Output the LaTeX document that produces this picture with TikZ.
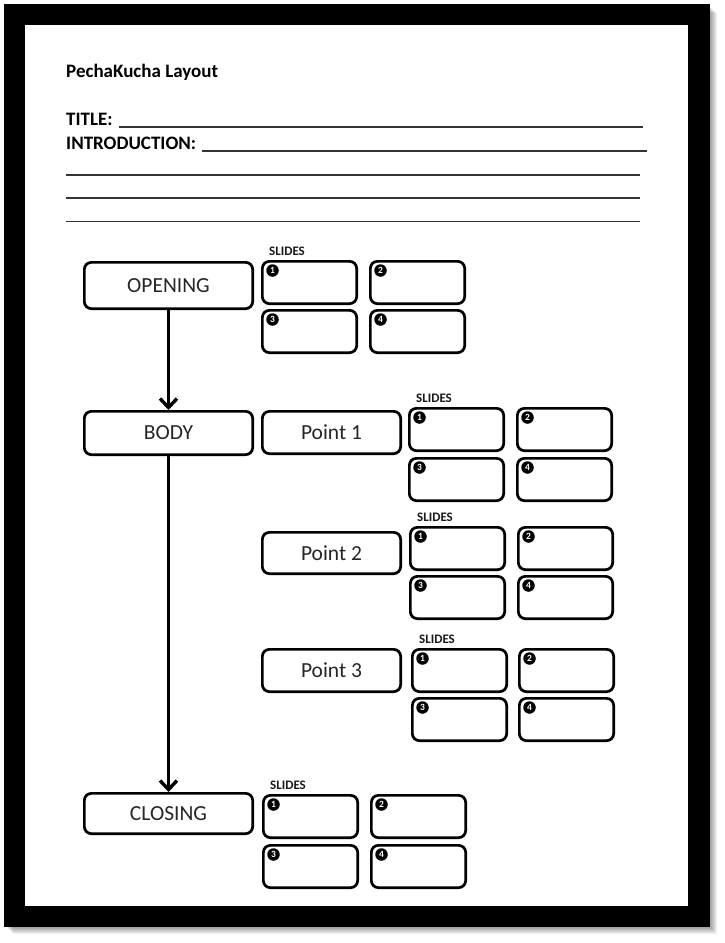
\documentclass[tikz,border=0pt]{standalone}
\usepackage{fontspec}
\setmainfont{Carlito}
\usetikzlibrary{arrows.meta}
\newcommand\slidegrp[5]{%
  \node[lbl,anchor=west] (#1L) at (#2+8,#3-8.5) {SLIDES};
  \foreach \k/\i/\j in {1/0/0,2/1/0,3/0/1,4/1/1} {
    \node[slidebox] (#1\k) at (#2+48.5+\i*#4,#3+22.5+\j*#5) {};
    \node[num] (#1n\k) at ([xshift=11.5pt,yshift=-10.5pt]#1\k.north west) {\k};
  }
}
\begin{document}
\begin{tikzpicture}[x=1pt,y=-1pt,
  box/.style={draw=black,line width=2.7pt,rounded corners=7pt,fill=white,text=black!85,
    font=\fontsize{21.5}{24}\selectfont,inner sep=0pt},
  slidebox/.style={draw=black,line width=2.7pt,rounded corners=7pt,fill=white,
    minimum width=94.3pt,minimum height=42.3pt,inner sep=0pt},
  num/.style={circle,fill=black,text=white,inner sep=0pt,minimum size=12.5pt,
    font=\fontsize{9.5}{9.5}\selectfont\bfseries},
  lbl/.style={font=\fontsize{13}{13}\selectfont\bfseries,inner sep=0pt,text=black!90},
  hdr/.style={font=\fontsize{19}{20}\selectfont\bfseries,inner sep=0pt},
  rule/.style={line width=1.3pt,draw=black!80},
  flow/.style={line width=3.4pt,-{Straight Barb[length=9pt,width=17pt]}}
]
\fill[white] (0,0) rectangle (725,943);
\useasboundingbox (0,0) rectangle (725,943);
% shadow and frame
\foreach \i in {1,...,7} \fill[black,opacity=0.06] (6+\i,6+\i) rectangle (710+\i,927+\i);
\fill[black] (4,4) rectangle (710,927);
\fill[white] (25,25) rectangle (688,906);
% header
\node[hdr,anchor=base west] (head) at (66,77) {PechaKucha Layout};
\node[hdr,anchor=base west] (ttl) at (66,125) {TITLE:};
\node[hdr,anchor=base west] (intro) at (66,149) {INTRODUCTION:};
\draw[rule] (119,127) -- (643,127);
\draw[rule] (202,151) -- (647,151);
\draw[rule] (66,175) -- (640,175);
\draw[rule] (66,198) -- (640,198);
\draw[rule] (66,221.5) -- (640,221.5);
% main boxes
\node[box,minimum width=168.3pt,minimum height=46.3pt] (open) at (168.5,285.5) {OPENING};
\node[box,minimum width=168.3pt,minimum height=43.3pt] (body) at (168.5,433) {BODY};
\node[box,minimum width=168.3pt,minimum height=40.3pt] (close) at (168.5,813.5) {CLOSING};
\node[box,minimum width=138.3pt,minimum height=42.3pt] (p1) at (331.5,432.5) {Point 1};
\node[box,minimum width=138.3pt,minimum height=41.3pt] (p2) at (331.5,553) {Point 2};
\node[box,minimum width=138.3pt,minimum height=42.3pt] (p3) at (331.5,670.5) {Point 3};
% slide groups
\slidegrp{o}{261}{260}{108}{49}
\slidegrp{a}{408}{407}{108}{50}
\slidegrp{b}{409}{526}{108}{49}
\slidegrp{c}{411}{648}{107}{49}
\slidegrp{z}{262}{794}{108}{50}
% connectors
\draw[flow] (open.south) -- (body.north);
\draw[flow] (body.south) -- (close.north);
\end{tikzpicture}
\end{document}
